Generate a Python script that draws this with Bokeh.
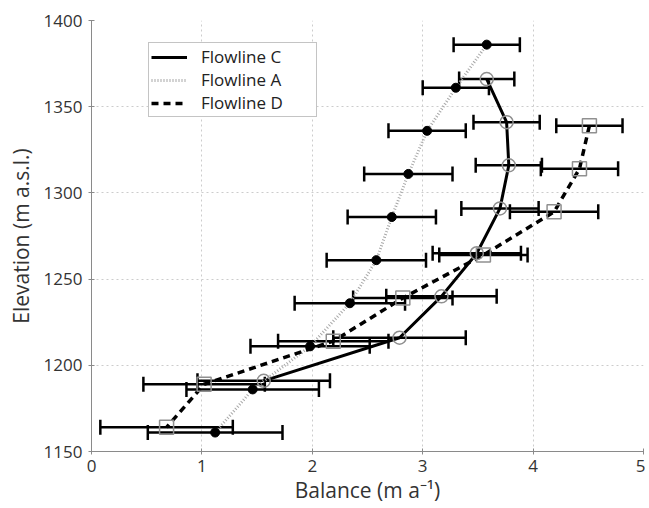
from bokeh.plotting import figure
from bokeh.models import ColumnDataSource, Whisker, TeeHead, Legend, LegendItem, Range1d
from bokeh.embed import file_html
from bokeh.resources import INLINE

# Flowline A (filled dots, dotted line)
A_elev = [1386, 1361, 1336, 1311, 1286, 1261, 1236, 1211, 1186, 1161]
A_bal = [3.58, 3.30, 3.04, 2.87, 2.72, 2.58, 2.34, 1.98, 1.46, 1.12]
A_err = [0.30, 0.30, 0.35, 0.40, 0.40, 0.45, 0.50, 0.54, 0.60, 0.61]

# Flowline C (open circles, solid line)
C_elev = [1366, 1341, 1316, 1291, 1265, 1240, 1216, 1191]
C_bal = [3.58, 3.76, 3.78, 3.70, 3.49, 3.17, 2.79, 1.56]
C_err = [0.25, 0.30, 0.30, 0.35, 0.40, 0.50, 0.60, 0.60]

# Flowline D (open squares, dashed line)
D_elev = [1339, 1314, 1289, 1264, 1239, 1214, 1189, 1164]
D_bal = [4.51, 4.42, 4.19, 3.55, 2.82, 2.19, 1.02, 0.68]
D_err = [0.30, 0.35, 0.40, 0.40, 0.45, 0.50, 0.55, 0.60]

x_ticks = [0, 1, 2, 3, 4, 5]
y_ticks = [1150, 1200, 1250, 1300, 1350, 1400]

FONT = "Open Sans"

p = figure(width=645, height=506, output_backend="svg", toolbar_location=None,
           x_range=Range1d(0, 5), y_range=Range1d(1150, 1400),
           min_border_left=91, min_border_right=2, min_border_top=20, min_border_bottom=52)
p.outline_line_color = None
p.background_fill_color = "white"

for ax in (p.xaxis, p.yaxis):
    ax.axis_line_color = "#8a8a8a"
    ax.major_tick_line_color = "#8a8a8a"
    ax.minor_tick_line_color = None
    ax.major_tick_in = 3
    ax.major_tick_out = 3
    ax.major_label_text_font = FONT
    ax.major_label_text_font_size = "17px"
    ax.major_label_text_color = "#333333"
    ax.axis_label_text_font = FONT
    ax.axis_label_text_font_size = "21px"
    ax.axis_label_text_font_style = "normal"
    ax.axis_label_text_color = "#333333"

p.xaxis.ticker = x_ticks
p.yaxis.ticker = y_ticks
p.xaxis.axis_label = "Balance (m a\u207b\u00b9)"
p.yaxis.axis_label = "Elevation (m a.s.l.)"
p.xaxis.major_label_standoff = 5
p.yaxis.major_label_standoff = 6
p.xaxis.axis_label_standoff = 1
p.yaxis.axis_label_standoff = 6

for g in (p.xgrid, p.ygrid):
    g.grid_line_color = "#cccccc"
    g.grid_line_dash = "2 3"
    g.grid_line_width = 1

def add_errors(bal, elev, err):
    src = ColumnDataSource(dict(y=elev, lo=[b - e for b, e in zip(bal, err)],
                                hi=[b + e for b, e in zip(bal, err)]))
    w = Whisker(source=src, base="y", lower="lo", upper="hi", dimension="width",
                line_color="black", line_width=2.5,
                lower_head=TeeHead(size=15, line_width=2.5, line_color="black"),
                upper_head=TeeHead(size=15, line_width=2.5, line_color="black"))
    p.add_layout(w)

add_errors(A_bal, A_elev, A_err)
add_errors(C_bal, C_elev, C_err)
add_errors(D_bal, D_elev, D_err)

lc = p.line(C_bal, C_elev, line_color="black", line_width=3)
la = p.line(A_bal, A_elev, line_color="#a8a8a8", line_width=3, line_dash="1 2")
ld = p.line(D_bal, D_elev, line_color="black", line_width=3.5, line_dash="7 5")

p.scatter(A_bal, A_elev, marker="circle", size=9, fill_color="black", line_color="black")
p.scatter(C_bal, C_elev, marker="circle", size=13, fill_color=None, line_color="#909090", line_width=1.5)
p.scatter(D_bal, D_elev, marker="square", size=14, fill_color=None, line_color="#909090", line_width=1.5)

legend = Legend(items=[LegendItem(label="Flowline C", renderers=[lc]),
                       LegendItem(label="Flowline A", renderers=[la]),
                       LegendItem(label="Flowline D", renderers=[ld])],
                location=(57, 334), orientation="vertical")
legend.border_line_color = "#8a8a8a"
legend.border_line_width = 1
legend.background_fill_alpha = 1
legend.label_text_font = FONT
legend.label_text_font_size = "17px"
legend.label_text_color = "#222222"
legend.glyph_width = 36
legend.glyph_height = 20
legend.spacing = 0
legend.padding = 2
legend.margin = 0
legend.label_standoff = 14
legend.label_height = 20
legend.label_width = 113
p.add_layout(legend)

open("out.html", "w").write(file_html(p, INLINE))
